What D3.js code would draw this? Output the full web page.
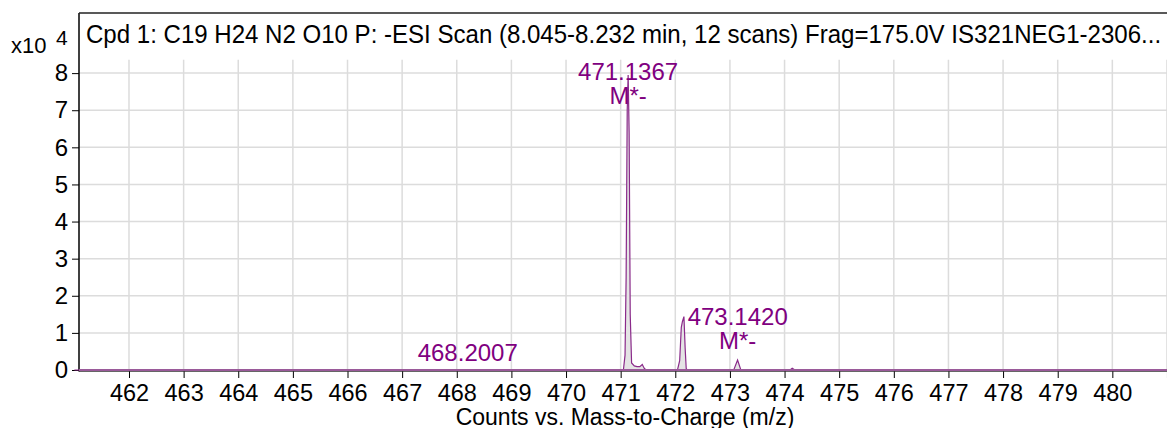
<!DOCTYPE html>
<html>
<head>
<meta charset="utf-8">
<script src="https://cdn.jsdelivr.net/npm/d3@7"></script>
<style>
  html, body { margin: 0; padding: 0; background: #fff; }
  svg { display: block; }
  text { font-family: "Liberation Sans", Arial, Helvetica, sans-serif; }
</style>
</head>
<body>
<svg id="chart" width="1167" height="428"></svg>
<script>
// ---- data ----
const titleText = "Cpd 1: C19 H24 N2 O10 P: -ESI Scan (8.045-8.232 min, 12 scans) Frag=175.0V IS321NEG1-2306...";
const xAxisTitle = "Counts vs. Mass-to-Charge (m/z)";
const yExponent = "4";
const xTicks = [462,463,464,465,466,467,468,469,470,471,472,473,474,475,476,477,478,479,480,481];
const yTicks = [0,1,2,3,4,5,6,7,8];

// profile spectrum (m/z, counts x10^4)
const specMz = [461.0, 468.16, 468.20, 468.24,
  471.05, 471.08, 471.10, 471.12, 471.137, 471.155, 471.175, 471.20, 471.25, 471.30, 471.35, 471.396, 471.43, 471.465,
  472.04, 472.08, 472.11, 472.13, 472.158, 472.18, 472.20, 472.22,
  473.07, 473.14, 473.20,
  474.10, 474.14, 474.19,
  481.5];
const specInt = [0, 0, 0.012, 0,
  0, 0.4, 2.5, 7.0, 7.95, 6.4, 1.5, 0.19, 0.11, 0.09, 0.09, 0.15, 0.05, 0,
  0, 0.25, 1.15, 1.3, 1.44, 0.6, 0.04, 0,
  0, 0.27, 0,
  0, 0.045, 0,
  0];

// peak annotations
const annMz   = [468.2007, 471.1367, 473.1420];
const annInt  = [0.012, 7.95, 0.27];
const annText = ["468.2007", "471.1367", "473.1420"];
const annTag  = ["", "M*-", "M*-"];

// ---- layout ----
const svg = d3.select("#chart");
const pLeft = 79, pTop = 13, pBottom = 370, pRight = 1180;
const x = d3.scaleLinear().domain([461.085, 462 + (pRight - 129) / 54.63]).range([pLeft, pRight]);
const y = d3.scaleLinear().domain([0, 9.62]).range([pBottom, pTop]);
const gridTop = y(8.36);
const purple = "#800080";

// gridlines
const grid = svg.append("g");
grid.selectAll("line.v").data(xTicks).join("line")
  .attr("x1", d => x(d)).attr("x2", d => x(d))
  .attr("y1", gridTop).attr("y2", pBottom)
  .attr("stroke", "#dcdcdc").attr("stroke-width", 1.5);
grid.selectAll("line.h").data(yTicks.filter(d => d > 0)).join("line")
  .attr("x1", pLeft).attr("x2", 1167)
  .attr("y1", d => y(d)).attr("y2", d => y(d))
  .attr("stroke", "#dcdcdc").attr("stroke-width", 1.5);

// spectrum fill
const pts = specMz.map((m, i) => [m, specInt[i]]);
svg.append("path").datum(pts)
  .attr("d", d3.area().x(d => x(d[0])).y0(y(0)).y1(d => y(d[1])))
  .attr("fill", "#e4e4e4");

// axes
const xAxis = d3.axisBottom(x).tickValues(xTicks).tickSize(7).tickPadding(6)
  .tickFormat(d => d === 481 ? "" : d3.format("d")(d));
const gx = svg.append("g").attr("transform", `translate(0,${pBottom + 1})`).call(xAxis);
gx.select(".domain").remove();
gx.selectAll(".tick line").attr("stroke", "#000").attr("stroke-width", 1);
gx.selectAll(".tick text").attr("font-size", 23.5).attr("fill", "#000")
  .attr("font-family", '"Liberation Sans", Arial, sans-serif');

const yAxis = d3.axisLeft(y).tickValues(yTicks).tickSize(7).tickPadding(4).tickFormat(d3.format("d"));
const gy = svg.append("g").attr("transform", `translate(${pLeft},0)`).call(yAxis);
gy.select(".domain").remove();
gy.selectAll(".tick line").attr("stroke", "#000").attr("stroke-width", 1);
gy.selectAll(".tick text").attr("font-size", 24).attr("fill", "#000")
  .attr("font-family", '"Liberation Sans", Arial, sans-serif');

// frame
svg.append("line").attr("x1", pLeft).attr("x2", pLeft).attr("y1", pTop).attr("y2", pBottom + 1.5)
  .attr("stroke", "#000").attr("stroke-width", 1.5);
svg.append("line").attr("x1", pLeft).attr("x2", 1167).attr("y1", pTop).attr("y2", pTop)
  .attr("stroke", "#222").attr("stroke-width", 1.5);
svg.append("line").attr("x1", pLeft).attr("x2", 1167).attr("y1", pBottom + 1.2).attr("y2", pBottom + 1.2)
  .attr("stroke", "#333").attr("stroke-width", 1.2);

// spectrum line
svg.append("path").datum(pts)
  .attr("d", d3.line().x(d => x(d[0])).y(d => y(d[1])))
  .attr("fill", "none").attr("stroke", "#8a2a8a").attr("stroke-width", 1.2);
svg.append("line").attr("x1", pLeft).attr("x2", 1167).attr("y1", pBottom).attr("y2", pBottom)
  .attr("stroke", "#9a5a9a").attr("stroke-width", 2);

// annotations
annMz.forEach((m, i) => {
  const yTop = y(annInt[i]);
  const g = svg.append("g").attr("fill", purple).attr("font-size", 24).attr("text-anchor", "middle");
  if (annTag[i]) {
    const nb = Math.max(yTop - 35, 80);
    g.append("text").attr("x", x(m)).attr("y", nb).text(annText[i]);
    g.append("text").attr("x", x(m)).attr("y", nb + 24).text(annTag[i]);
  } else {
    g.append("text").attr("x", x(m)).attr("y", yTop - 9).text(annText[i]);
  }
});

// title (horizontally condensed to fit the frame)
const titleG = svg.append("g");
const tt = titleG.append("text").attr("x", 0).attr("y", 0).attr("font-size", 25).attr("fill", "#000").text(titleText);
const natW = tt.node().getComputedTextLength();
titleG.attr("transform", `translate(86,43) scale(${1076 / natW},1)`);

// exponent label
svg.append("text").attr("x", 11).attr("y", 53).attr("font-size", 22).attr("fill", "#000").text("x10");
svg.append("text").attr("x", 56).attr("y", 45).attr("font-size", 21).attr("fill", "#000").text(yExponent);

// x axis title
svg.append("text").attr("x", 625).attr("y", 424.5).attr("font-size", 23).attr("text-anchor", "middle")
  .attr("fill", "#000").text(xAxisTitle);
</script>
</body>
</html>
